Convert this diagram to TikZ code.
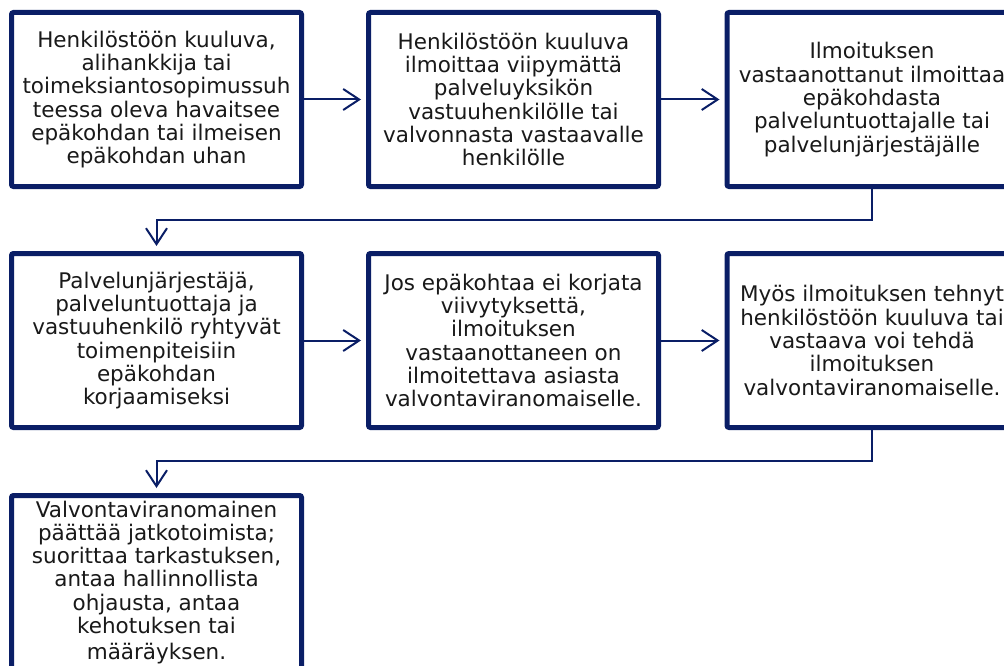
\documentclass[tikz,border=0pt]{standalone}
\usepackage{fontspec}
\setmainfont{DejaVu Sans}
\usetikzlibrary{arrows.meta}
\definecolor{tummansininen}{RGB}{10,30,102}
\definecolor{teksti}{RGB}{25,25,25}

\begin{document}
\begin{tikzpicture}[x=1pt,y=-1pt,
		laatikko/.style={draw=tummansininen,line width=5pt,rounded corners=2pt,fill=white,
			minimum width=290pt,minimum height=174pt,inner sep=0pt,align=center,
			text=teksti,font=\fontsize{21.5}{23.3}\selectfont},
		nuoli/.style={draw=tummansininen,line width=2pt,
			-{Straight Barb[length=16pt,width=21pt,line width=2pt]},shorten >=5pt}]
		\useasboundingbox (0,0) rectangle (1004,666);
		% Laatikot
		\node[laatikko] (havainto) at (156.5,99.5) {Henkilöstöön kuuluva,\\alihankkija tai\\toimeksiantosopimussuh\\teessa oleva havaitsee\\epäkohdan tai ilmeisen\\epäkohdan uhan};
		\node[laatikko] (ilmoitus) at (513.5,99.5) {Henkilöstöön kuuluva\\ilmoittaa viipymättä\\palveluyksikön\\vastuuhenkilölle tai\\valvonnasta vastaavalle\\henkilölle};
		\node[laatikko] (tiedotus) at (872,99.5) {Ilmoituksen\\vastaanottanut ilmoittaa\\epäkohdasta\\palveluntuottajalle tai\\palvelunjärjestäjälle};
		\node[laatikko] (toimet) at (156.5,340.5) {Palvelunjärjestäjä,\\palveluntuottaja ja\\vastuuhenkilö ryhtyvät\\toimenpiteisiin\\epäkohdan\\korjaamiseksi};
		\node[laatikko] (eskalointi) at (513.5,340.5) {Jos epäkohtaa ei korjata\\viivytyksettä,\\ilmoituksen\\vastaanottaneen on\\ilmoitettava asiasta\\valvontaviranomaiselle.};
		\node[laatikko] (oma) at (872,340.5) {Myös ilmoituksen tehnyt\\henkilöstöön kuuluva tai\\vastaava voi tehdä\\ilmoituksen\\valvontaviranomaiselle.};
		\node[laatikko] (valvonta) at (156.5,582.5) {Valvontaviranomainen\\päättää jatkotoimista;\\suorittaa tarkastuksen,\\antaa hallinnollista\\ohjausta, antaa\\kehotuksen tai\\[3pt]määräyksen.};
		% Nuolet
		\draw[nuoli] (havainto.east) -- (ilmoitus.west);
		\draw[nuoli] (ilmoitus.east) -- (tiedotus.west);
		\draw[nuoli] (tiedotus.south) -- ++(0,31) -| (toimet.north);
		\draw[nuoli] (toimet.east) -- (eskalointi.west);
		\draw[nuoli] (eskalointi.east) -- (oma.west);
		\draw[nuoli] (oma.south) -- ++(0,31) -| (valvonta.north);
	\end{tikzpicture}
\end{document}
